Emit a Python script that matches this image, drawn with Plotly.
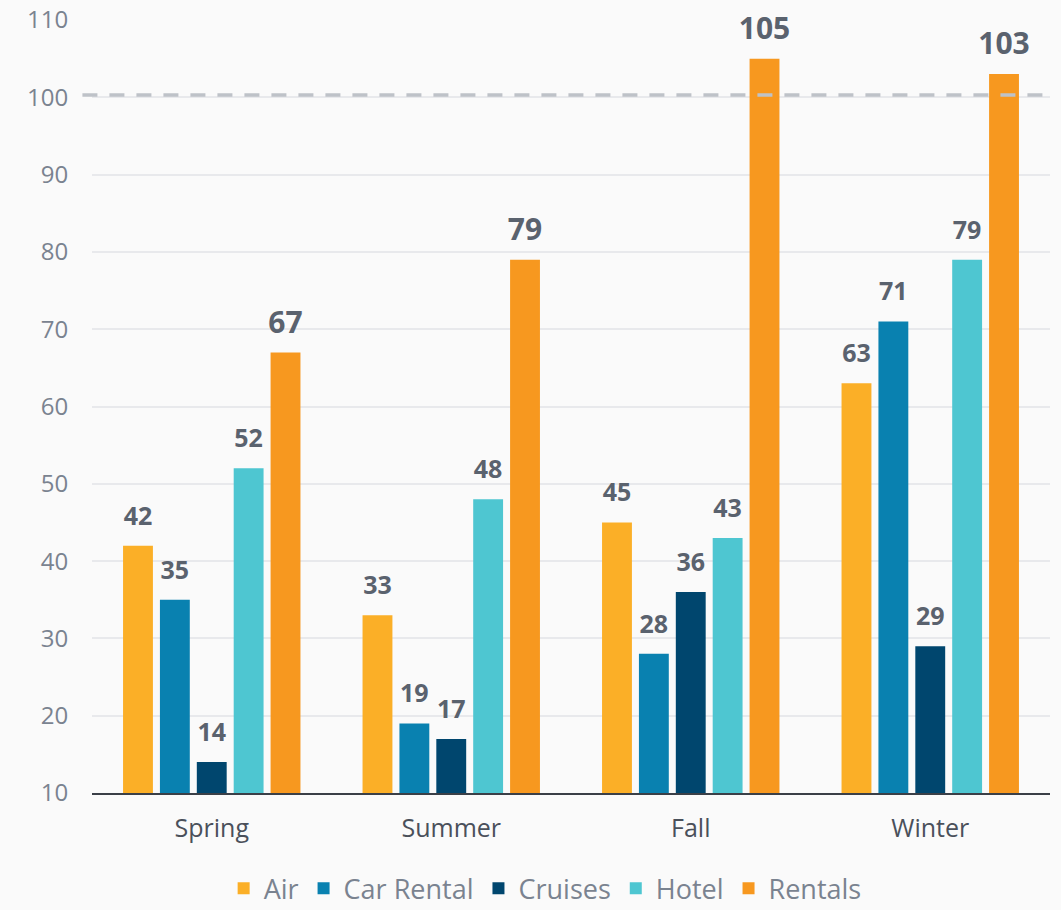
import plotly.graph_objects as go

seasons = ["Spring", "Summer", "Fall", "Winter"]
series_names = ["Air", "Car Rental", "Cruises", "Hotel", "Rentals"]
air = [42, 33, 45, 63]
car_rental = [35, 19, 28, 71]
cruises = [14, 17, 36, 29]
hotel = [52, 48, 43, 79]
rentals = [67, 79, 105, 103]
threshold = 100

colors = ["#FBAF27", "#0981B0", "#00466E", "#4EC6D1", "#F7981F"]
label_sizes = [25, 25, 25, 25, 30]
label_pad = [22, 22, 22, 22, 18]
FONT = "'Open Sans', Lato, sans-serif"

fig = go.Figure()
all_vals = [air, car_rental, cruises, hotel, rentals]
for name, vals, color in zip(series_names, all_vals, colors):
    fig.add_trace(go.Bar(
        x=seasons, y=vals, name=name, offsetgroup=name,
        marker=dict(color=color, line=dict(width=0)),
        hoverinfo="x+y+name",
    ))

# value labels: invisible markers push the text a bit above the bar tops
for name, vals, size, pad in zip(series_names, all_vals, label_sizes, label_pad):
    fig.add_trace(go.Scatter(
        x=seasons, y=vals, mode="markers+text", offsetgroup=name,
        marker=dict(size=pad, color="rgba(0,0,0,0)"),
        text=[f"<b>{v}</b>" for v in vals], textposition="top center",
        textfont=dict(size=size, color="#5A626E", family=FONT),
        cliponaxis=False, showlegend=False, hoverinfo="skip",
    ))

fig.add_shape(type="line", xref="paper", yref="y", x0=-0.01, x1=1.0, y0=threshold + 0.3, y1=threshold + 0.3,
              line=dict(color="#BEC2C8", width=3.5, dash="15px,12px"), layer="above")

fig.update_layout(
    width=1061, height=910,
    margin=dict(l=92, r=11, t=20, b=117, autoexpand=False),
    paper_bgcolor="#FAFAFA", plot_bgcolor="#FAFAFA",
    barmode="group", bargap=0.23, bargroupgap=0.19,
    scattermode="group", scattergap=0.23,
    font=dict(family=FONT, color="#7A8390"),
    showlegend=True,
    legend=dict(orientation="h", x=0.473, xanchor="center", y=-0.092, yanchor="top",
                font=dict(size=27, color="#7A8390"), traceorder="normal"),
)
fig.update_yaxes(range=[10, 110], dtick=10, tick0=10, showgrid=True, gridcolor="#E8E9EC", gridwidth=2,
                 zeroline=False, showline=False, ticks="outside", ticklen=18, tickcolor="rgba(0,0,0,0)",
                 tickfont=dict(size=24, color="#7A8390"), automargin=False)
fig.update_xaxes(showline=True, linecolor="#3A3F47", linewidth=2, showgrid=False,
                 ticks="outside", ticklen=12, tickcolor="rgba(0,0,0,0)",
                 tickfont=dict(size=25, color="#4A505A"), automargin=False)

fig.write_html("out.html", config={"displayModeBar": False},
               post_script="document.body.style.margin='0';document.body.style.background='#FAFAFA';")
